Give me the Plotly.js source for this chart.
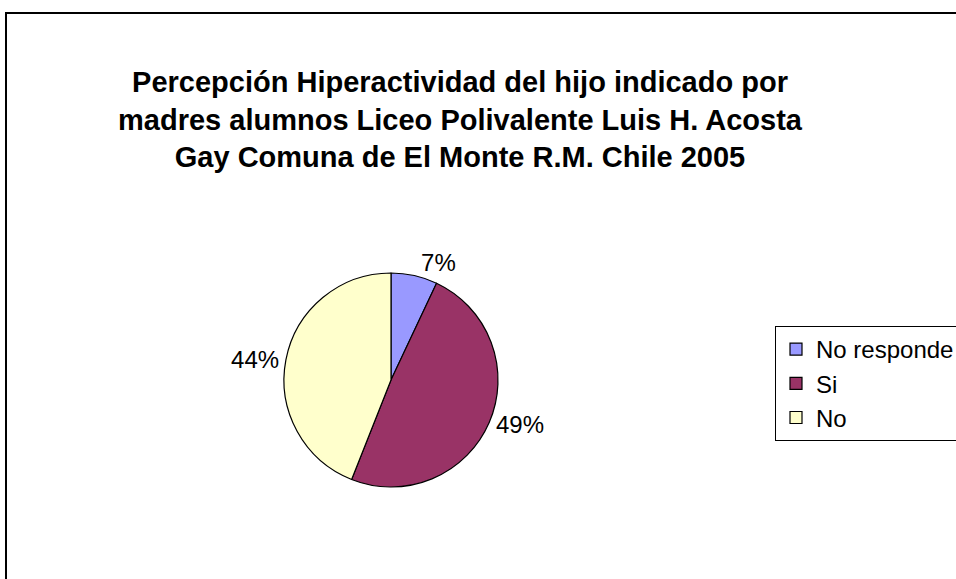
<!DOCTYPE html>
<html>
<head>
<meta charset="utf-8">
<script src="https://cdn.plot.ly/plotly-3.0.1.min.js"></script>
<style>html,body{margin:0;padding:0;background:#fff;}#chart{width:956px;height:579px;}</style>
</head>
<body>
<div id="chart"></div>
<script>
const categories = ["No responde", "Si", "No"];
const values = [7, 49, 44];
const colors = ["#9999FF", "#993366", "#FFFFCC"];
const titleLines = [
  "Percepción Hiperactividad del hijo indicado por",
  "madres alumnos Liceo Polivalente Luis H. Acosta",
  "Gay Comuna de El Monte R.M. Chile 2005"
];

const W = 956, H = 579;
const cx = 391, cy = 380, r = 107;

const trace = {
  type: "pie",
  labels: categories,
  values: values,
  sort: false,
  direction: "clockwise",
  rotation: 0,
  marker: { colors: colors, line: { color: "#000000", width: 1.2 } },
  textposition: "outside",
  texttemplate: "%{percent:.0%}",
  textfont: { family: "Liberation Sans, Arial, sans-serif", size: 24, color: "#000000" },
  hoverinfo: "label+percent",
  domain: {
    x: [(cx - r) / W, (cx + r) / W],
    y: [(H - cy - r) / H, (H - cy + r) / H]
  },
  automargin: false
};

const layout = {
  width: W,
  height: H,
  margin: { l: 0, r: 0, t: 0, b: 0, autoexpand: false },
  paper_bgcolor: "#ffffff",
  font: { family: "Liberation Sans, Arial, sans-serif", color: "#000000" },
  title: {
    text: "<b>" + titleLines.join("<br>") + "</b>",
    font: { family: "Liberation Sans, Arial, sans-serif", size: 29, color: "#000000" },
    x: 460 / W,
    xanchor: "center",
    xref: "container",
    y: 1 - 92 / H,
    yanchor: "middle",
    yref: "container"
  },
  showlegend: true,
  legend: {
    x: 775 / W,
    xanchor: "left",
    y: 1 - 326 / H,
    yanchor: "top",
    bgcolor: "#ffffff",
    bordercolor: "#000000",
    borderwidth: 1,
    font: { family: "Liberation Sans, Arial, sans-serif", size: 24, color: "#000000" },
    itemwidth: 30,
    traceorder: "normal"
  },
  shapes: [
    {
      type: "rect", xref: "paper", yref: "paper",
      x0: 6 / W, x1: 1.05, y0: -0.05, y1: 1 - 13 / H,
      line: { color: "#000000", width: 2 }, fillcolor: "rgba(0,0,0,0)", layer: "below"
    }
  ]
};

Plotly.newPlot("chart", [trace], layout, { displayModeBar: false, staticPlot: true });
</script>
</body>
</html>
